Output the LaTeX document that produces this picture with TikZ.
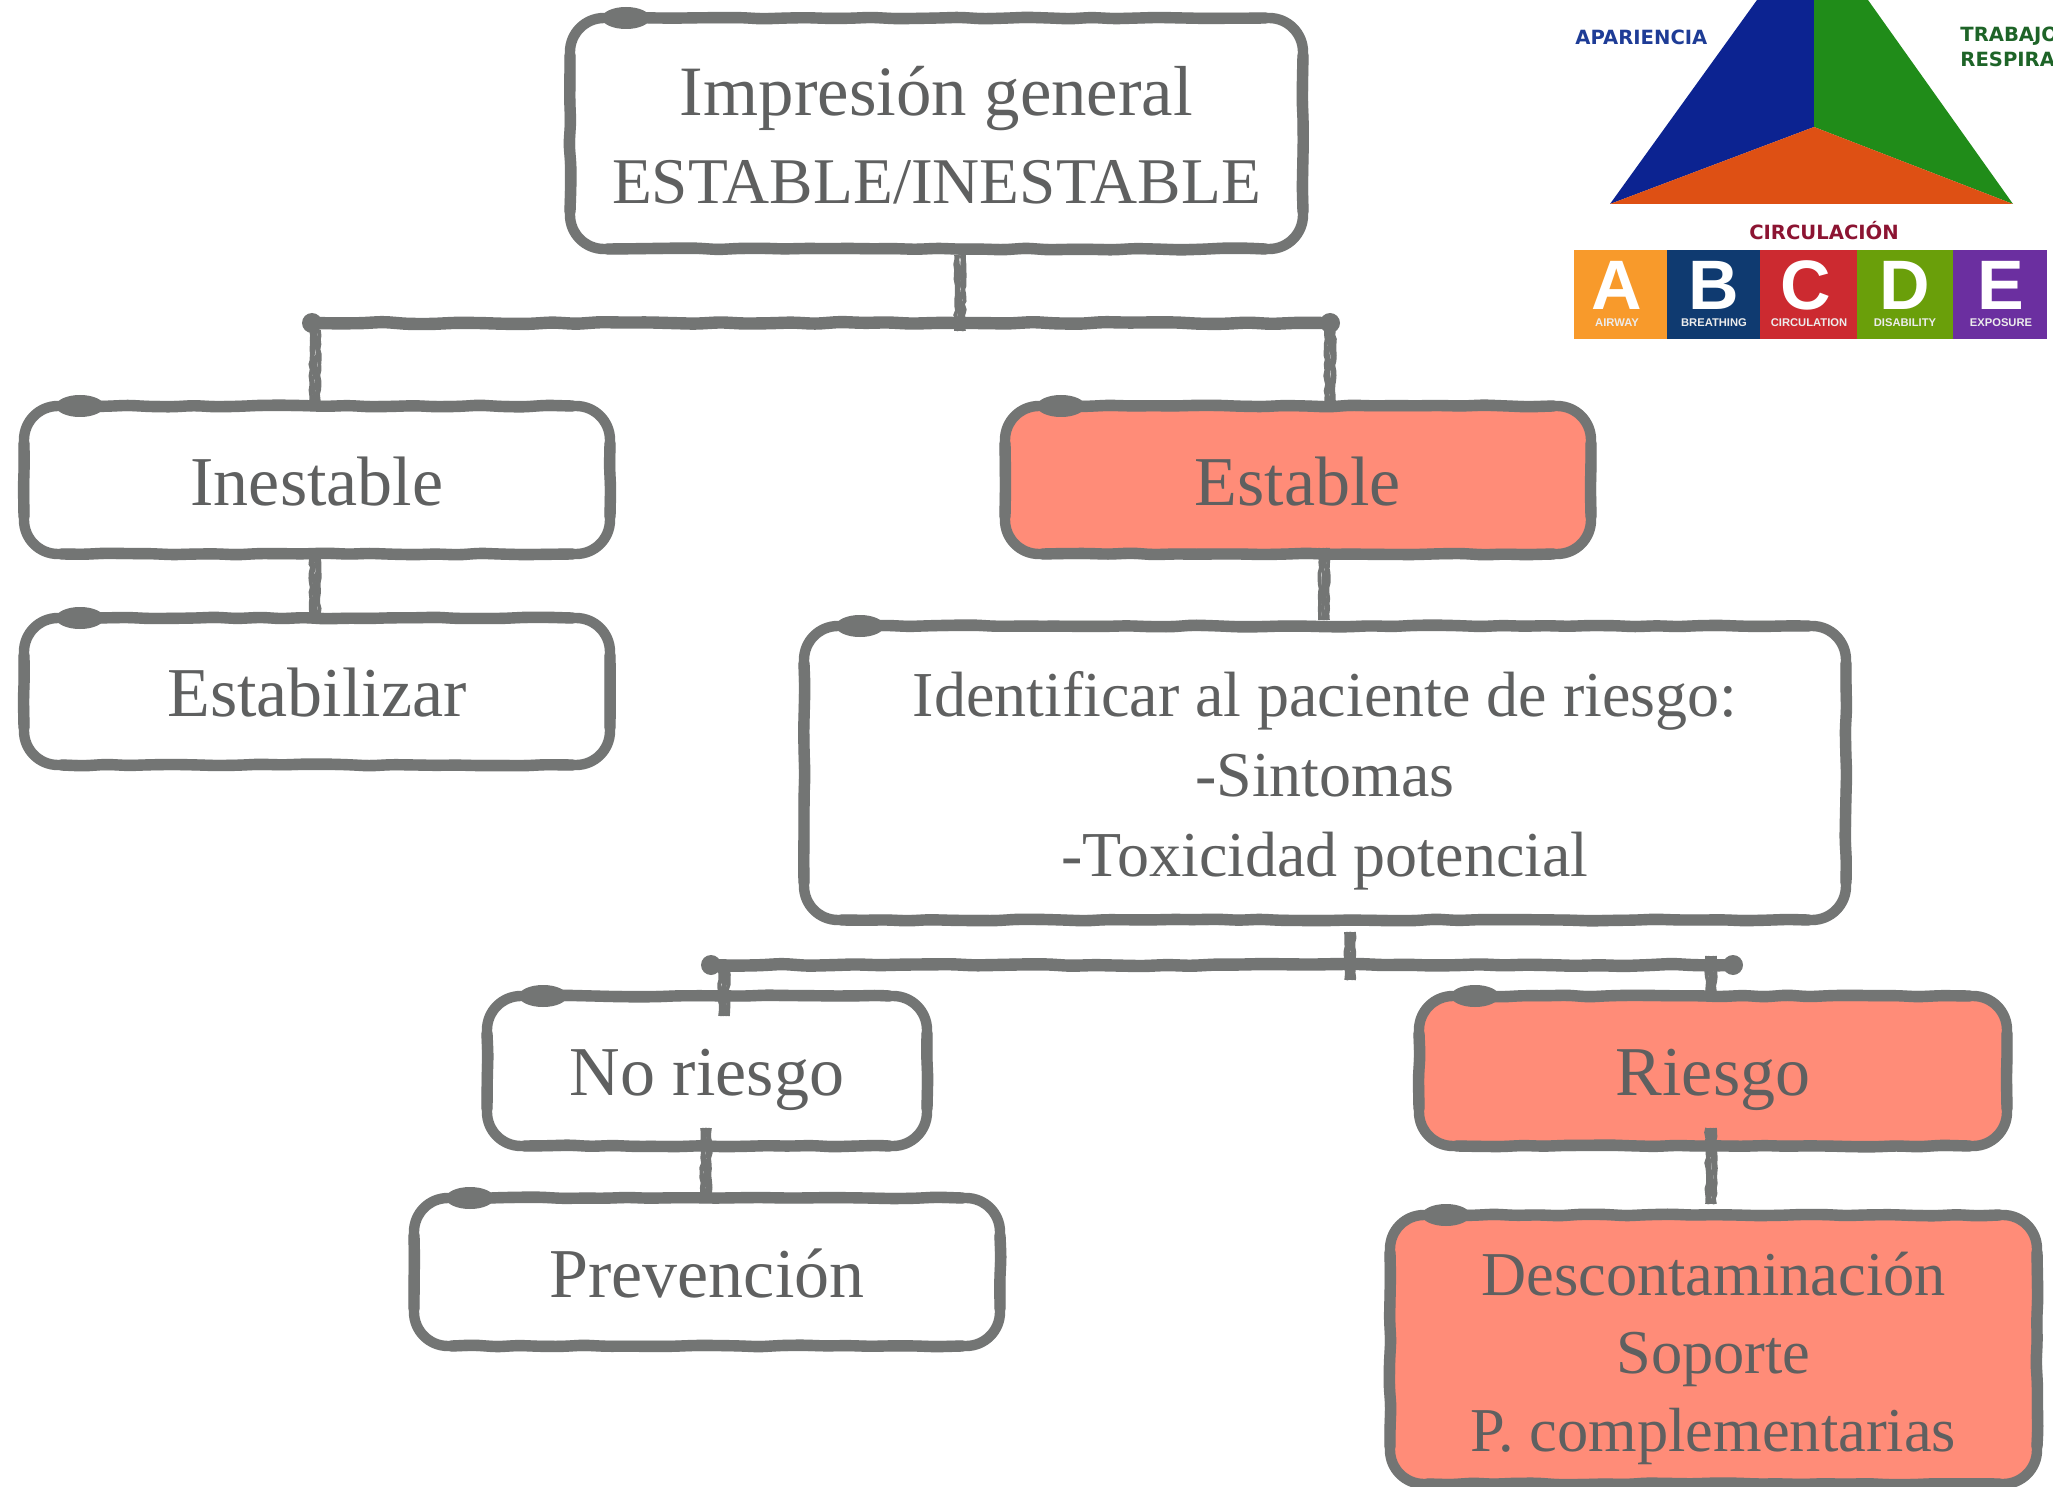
\documentclass[tikz,border=0pt]{standalone}
\usepackage{fontspec}
\setmainfont{Liberation Serif}
\newfontfamily\logosans{Liberation Sans}
\newfontfamily\logohand{DejaVu Sans}
\usetikzlibrary{decorations.pathmorphing,calc}
\definecolor{linec}{HTML}{737574}
\definecolor{textc}{HTML}{5F6060}
\definecolor{salmon}{HTML}{FF8C78}
\tikzset{
  x=0.5pt,y=-0.5pt,
  boxbase/.style={draw=linec,line width=5.2pt,rounded corners=17pt,inner sep=0pt,outer sep=0pt,
    align=center,text=textc},
  boxplain/.style={boxbase,fill=white},
  boxfill/.style={boxbase,fill=salmon},
  bigtext/.style={font=\fontsize{35}{44}\selectfont},
  imptext/.style={font=\fontsize{35.4}{44}\selectfont},
  midtext/.style={font=\fontsize{32}{40}\selectfont},
  lowtext/.style={font=\fontsize{31.2}{39}\selectfont},
  wobble/.style={draw=linec,line width=5.7pt,rounded corners=3pt,line cap=round,
    decorate,decoration={random steps,segment length=11pt,amplitude=.5pt}},
  barline/.style={draw=linec,line width=6.2pt,rounded corners=3pt,line cap=round,
    decorate,decoration={random steps,segment length=12pt,amplitude=.55pt}},
  scratch/.style={draw=linec,line width=1.8pt,decorate,decoration={random steps,segment length=2.5pt,amplitude=.5pt}},
  letterc/.style={text=white,font=\logosans\bfseries\fontsize{35}{35}\selectfont,inner sep=0pt},
  tagc/.style={text=white!85!gray,font=\logosans\bfseries\fontsize{5.6}{6}\selectfont,inner sep=0pt},
  handc/.style={font=\logohand\bfseries\fontsize{9.8}{12.4}\selectfont,inner sep=0pt,align=left}
}
% name, x1, y1, x2, y2, styles, text, text shift in px
\newcommand{\bx}[8]{%
  \node[#6,minimum width={(#4-#2)*0.5pt},minimum height={(#5-#3)*0.5pt}] (#1) at ({(#2+#4)/2},{(#3+#5)/2})
    {\raisebox{0pt}[\dimexpr\height+#8pt\relax][\depth]{\begin{tabular}{@{}c@{}}#7\end{tabular}}};
  \draw[wobble] ($(#1.north west)+(38,0)$) -- ($(#1.north east)+(-38,0)$);
  \draw[wobble] ($(#1.south west)+(38,0)$) -- ($(#1.south east)+(-38,0)$);
  \draw[wobble] ($(#1.north west)+(0,38)$) -- ($(#1.south west)+(0,-38)$);
  \draw[wobble] ($(#1.north east)+(0,38)$) -- ($(#1.south east)+(0,-38)$);
  \fill[linec] ($(#1.north west)+(56,0)$) ellipse (24 and 11);
}
\newcommand{\scr}[2]{%
  \foreach \dx in {-4,-1.5,1.5,4}{\draw[scratch] ($(#1)+(\dx,0)$) -- ($(#2)+(\dx,0)$);}
}
\begin{document}
\begin{tikzpicture}
\pgfmathsetseed{4242}
\useasboundingbox (0,0) rectangle (2053,1487);
\clip (0,0) rectangle (2053,1487);
% logo
\fill[fill={rgb,255:red,12;green,35;blue,145}] (1757,0) -- (1814,0) -- (1814,127) -- (1610,204) -- cycle;
\fill[fill={rgb,255:red,32;green,140;blue,25}] (1814,0) -- (1868,0) -- (2013,204) -- (1814,127) -- cycle;
\fill[fill={rgb,255:red,222;green,80;blue,20}] (1610,204) -- (1814,127) -- (2013,204) -- cycle;
\node[handc,text={rgb,255:red,30;green,60;blue,150},anchor=west] (apar) at (1575,37) {APARIENCIA};
\node[handc,text={rgb,255:red,30;green,100;blue,40},anchor=north west] (trab) at (1960,27) {TRABAJO\\RESPIRA};
\node[handc,text={rgb,255:red,140;green,20;blue,50},anchor=center] (circ) at (1824,231) {CIRCULACIÓN};
\fill[fill={rgb,255:red,248;green,154;blue,43}] (1574,250) rectangle (1667,339);
\fill[fill={rgb,255:red,15;green,58;blue,112}] (1667,250) rectangle (1760,339);
\fill[fill={rgb,255:red,204;green,42;blue,48}] (1760,250) rectangle (1857,339);
\fill[fill={rgb,255:red,106;green,159;blue,10}] (1857,250) rectangle (1953,339);
\fill[fill={rgb,255:red,107;green,47;blue,160}] (1953,250) rectangle (2047,339);
\node[letterc] (la) at (1617,285) {A};
\node[letterc] (lb) at (1714,285) {B};
\node[letterc] (lc) at (1806,285) {C};
\node[letterc] (ld) at (1905,285) {D};
\node[letterc] (le) at (2001,285) {E};
\node[tagc] (ta) at (1617,323) {AIRWAY};
\node[tagc] (tb) at (1714,323) {BREATHING};
\node[tagc] (tc) at (1809,323) {CIRCULATION};
\node[tagc] (td) at (1905,323) {DISABILITY};
\node[tagc] (te) at (2001,323) {EXPOSURE};
% boxes
\bx{imp}{570}{18}{1303}{249}{boxplain,imptext}{Impresión general\\{\fontsize{32.6}{44}\selectfont ESTABLE/INESTABLE}}{8}
\bx{ine}{24}{406}{610}{554}{boxplain,bigtext}{Inestable}{8}
\bx{est}{1005}{406}{1591}{554}{boxfill,bigtext}{Estable}{8}
\bx{esz}{24}{618}{610}{765}{boxplain,bigtext}{Estabilizar}{7}
\bx{ide}{804}{626}{1846}{920}{boxplain,midtext}{Identificar al paciente de riesgo:\\-Sintomas\\-Toxicidad potencial}{7}
\bx{nor}{487}{996}{927}{1146}{boxplain,bigtext}{No riesgo}{7}
\bx{pre}{414}{1198}{1000}{1346}{boxplain,bigtext}{Prevención}{8}
\bx{rie}{1419}{996}{2007}{1146}{boxfill,bigtext}{Riesgo}{7}
\bx{des}{1390}{1215}{2037}{1484}{boxfill,lowtext}{Descontaminación\\Soporte\\P. complementarias}{8}
% bars
\coordinate (aL) at (312,323);
\coordinate (aR) at (1330,323);
\coordinate (aJ) at (960,323);
\coordinate (bL) at (711,965);
\coordinate (bR) at (1733,965);
\coordinate (bJ) at (1350,965);
\draw[barline] (aL) -- (aR);
\draw[barline] (bL) -- (bR);
\fill[linec] (aL) circle (10);
\fill[linec] (aR) circle (10);
\fill[linec] (bL) circle (10);
\fill[linec] (bR) circle (10);
% connectors
\coordinate (t1) at (960,255);
\scr{t1}{$(aJ)+(0,8)$}
\coordinate (c1) at (315,330);
\coordinate (c1b) at (315,402);
\scr{c1}{c1b}
\coordinate (c2) at (1330,330);
\coordinate (c2b) at (1330,402);
\scr{c2}{c2b}
\coordinate (c3) at (315,558);
\coordinate (c3b) at (315,614);
\scr{c3}{c3b}
\coordinate (c4) at (1324,548);
\coordinate (c4b) at (1324,620);
\scr{c4}{c4b}
\coordinate (c5) at (1350,932);
\coordinate (c5b) at (1350,980);
\scr{c5}{c5b}
\coordinate (c6) at (724,970);
\coordinate (c6b) at (724,1016);
\scr{c6}{c6b}
\coordinate (c7) at (1711,956);
\coordinate (c7b) at (1711,992);
\scr{c7}{c7b}
\coordinate (c8) at (706,1128);
\coordinate (c8b) at (706,1194);
\scr{c8}{c8b}
\coordinate (c9) at (1711,1128);
\coordinate (c9b) at (1711,1204);
\scr{c9}{c9b}
\end{tikzpicture}
\end{document}
